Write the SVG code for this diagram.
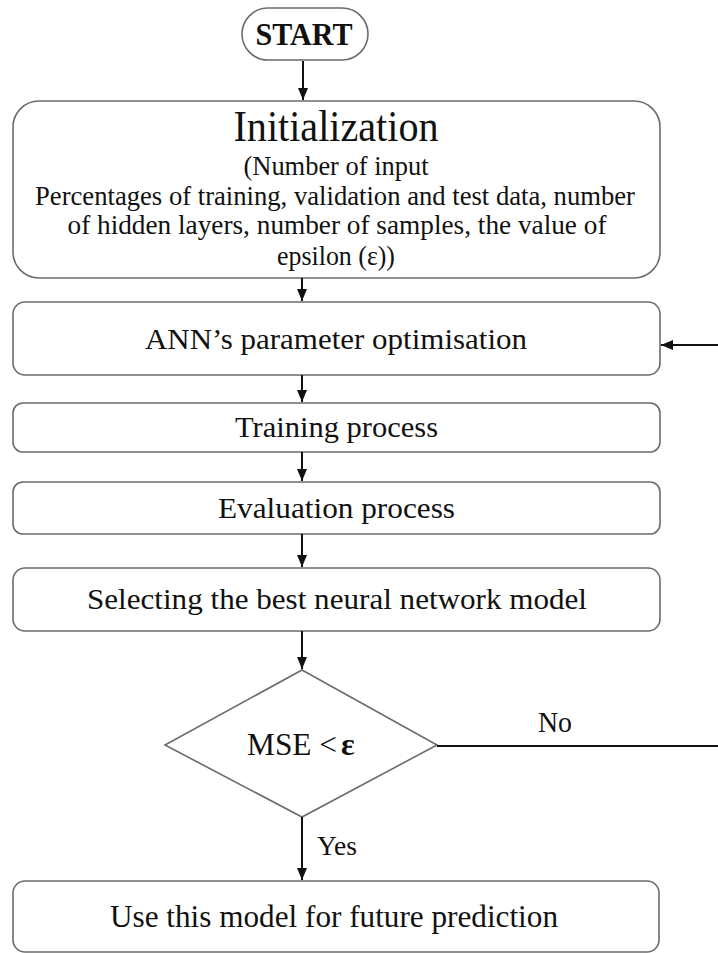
<svg xmlns="http://www.w3.org/2000/svg" width="718" height="953" viewBox="0 0 718 953">
<style>
.box{fill:#fff;stroke:#6b6b6b;stroke-width:1.6}
.t{font-family:"Liberation Serif","Times New Roman",serif;fill:#111;text-anchor:middle}
.s{text-anchor:start}
.conn{stroke:#111;stroke-width:2;fill:none}
</style>
<defs>
<marker id="ah" viewBox="0 0 12 10" refX="12" refY="5" markerWidth="6" markerHeight="5" markerUnits="strokeWidth" orient="auto">
<path d="M0,0 L12,5 L0,10 z" fill="#111"/>
</marker>
</defs>
<rect width="718" height="953" fill="#fff"/>
<g id="start">
<rect class="box" x="242" y="8" width="126" height="52" rx="26"/>
<text class="t" x="304" y="45" font-size="31" font-weight="bold" textLength="97" lengthAdjust="spacingAndGlyphs">START</text>
</g>
<g id="init">
<rect class="box" x="13" y="101" width="647" height="177" rx="26"/>
<text class="t" x="336" y="141" font-size="44" textLength="205" lengthAdjust="spacingAndGlyphs">Initialization</text>
<text class="t" x="336" y="175" font-size="28" textLength="185" lengthAdjust="spacingAndGlyphs">(Number of input</text>
<text class="t" x="335" y="205" font-size="28" textLength="600" lengthAdjust="spacingAndGlyphs">Percentages of training, validation and test data, number</text>
<text class="t" x="337" y="234" font-size="28" textLength="539" lengthAdjust="spacingAndGlyphs">of hidden layers, number of samples, the  value of</text>
<text class="t" x="336" y="265" font-size="28" textLength="118" lengthAdjust="spacingAndGlyphs">epsilon (ε))</text>
</g>
<g id="ann">
<rect class="box" x="13" y="302" width="647" height="73" rx="12"/>
<text class="t" x="336" y="349" font-size="30" textLength="382" lengthAdjust="spacingAndGlyphs">ANN’s parameter optimisation</text>
</g>
<g id="training">
<rect class="box" x="13" y="403" width="647" height="49" rx="10"/>
<text class="t" x="336.5" y="437" font-size="30" textLength="203" lengthAdjust="spacingAndGlyphs">Training process</text>
</g>
<g id="evaluation">
<rect class="box" x="13" y="482" width="647" height="52" rx="10"/>
<text class="t" x="336.5" y="518" font-size="30" textLength="237" lengthAdjust="spacingAndGlyphs">Evaluation process</text>
</g>
<g id="selecting">
<rect class="box" x="13" y="568" width="647" height="63" rx="12"/>
<text class="t" x="337" y="609" font-size="30" textLength="500" lengthAdjust="spacingAndGlyphs">Selecting the best neural network model</text>
</g>
<g id="decision">
<polygon class="box" points="302,670 437,745 302,817 165,745"/>
<text class="t s" x="247" y="755" font-size="32" textLength="90" lengthAdjust="spacingAndGlyphs">MSE &lt;</text>
<text class="t s" x="341" y="755" font-size="32" font-weight="bold">ε</text>
</g>
<g id="final">
<rect class="box" x="13" y="881" width="646" height="71" rx="12"/>
<text class="t" x="334" y="927" font-size="31" textLength="448" lengthAdjust="spacingAndGlyphs">Use this model for future prediction</text>
</g>
<g id="connectors">
<line class="conn" x1="303" y1="61" x2="303" y2="100" marker-end="url(#ah)"/>
<line class="conn" x1="302" y1="278" x2="302" y2="301" marker-end="url(#ah)"/>
<line class="conn" x1="302" y1="375" x2="302" y2="402" marker-end="url(#ah)"/>
<line class="conn" x1="302" y1="452" x2="302" y2="481" marker-end="url(#ah)"/>
<line class="conn" x1="302" y1="534" x2="302" y2="567" marker-end="url(#ah)"/>
<line class="conn" x1="302" y1="631" x2="302" y2="669" marker-end="url(#ah)"/>
<line class="conn" x1="302" y1="817" x2="302" y2="880" marker-end="url(#ah)"/>
<line class="conn" x1="437" y1="746" x2="718" y2="746" stroke-width="2.4"/>
<line class="conn" x1="718" y1="345" x2="661" y2="345" marker-end="url(#ah)"/>
<text class="t" x="555" y="732" font-size="29" textLength="34" lengthAdjust="spacingAndGlyphs">No</text>
<text class="t" x="337" y="855" font-size="27" textLength="40" lengthAdjust="spacingAndGlyphs">Yes</text>
</g>
</svg>
